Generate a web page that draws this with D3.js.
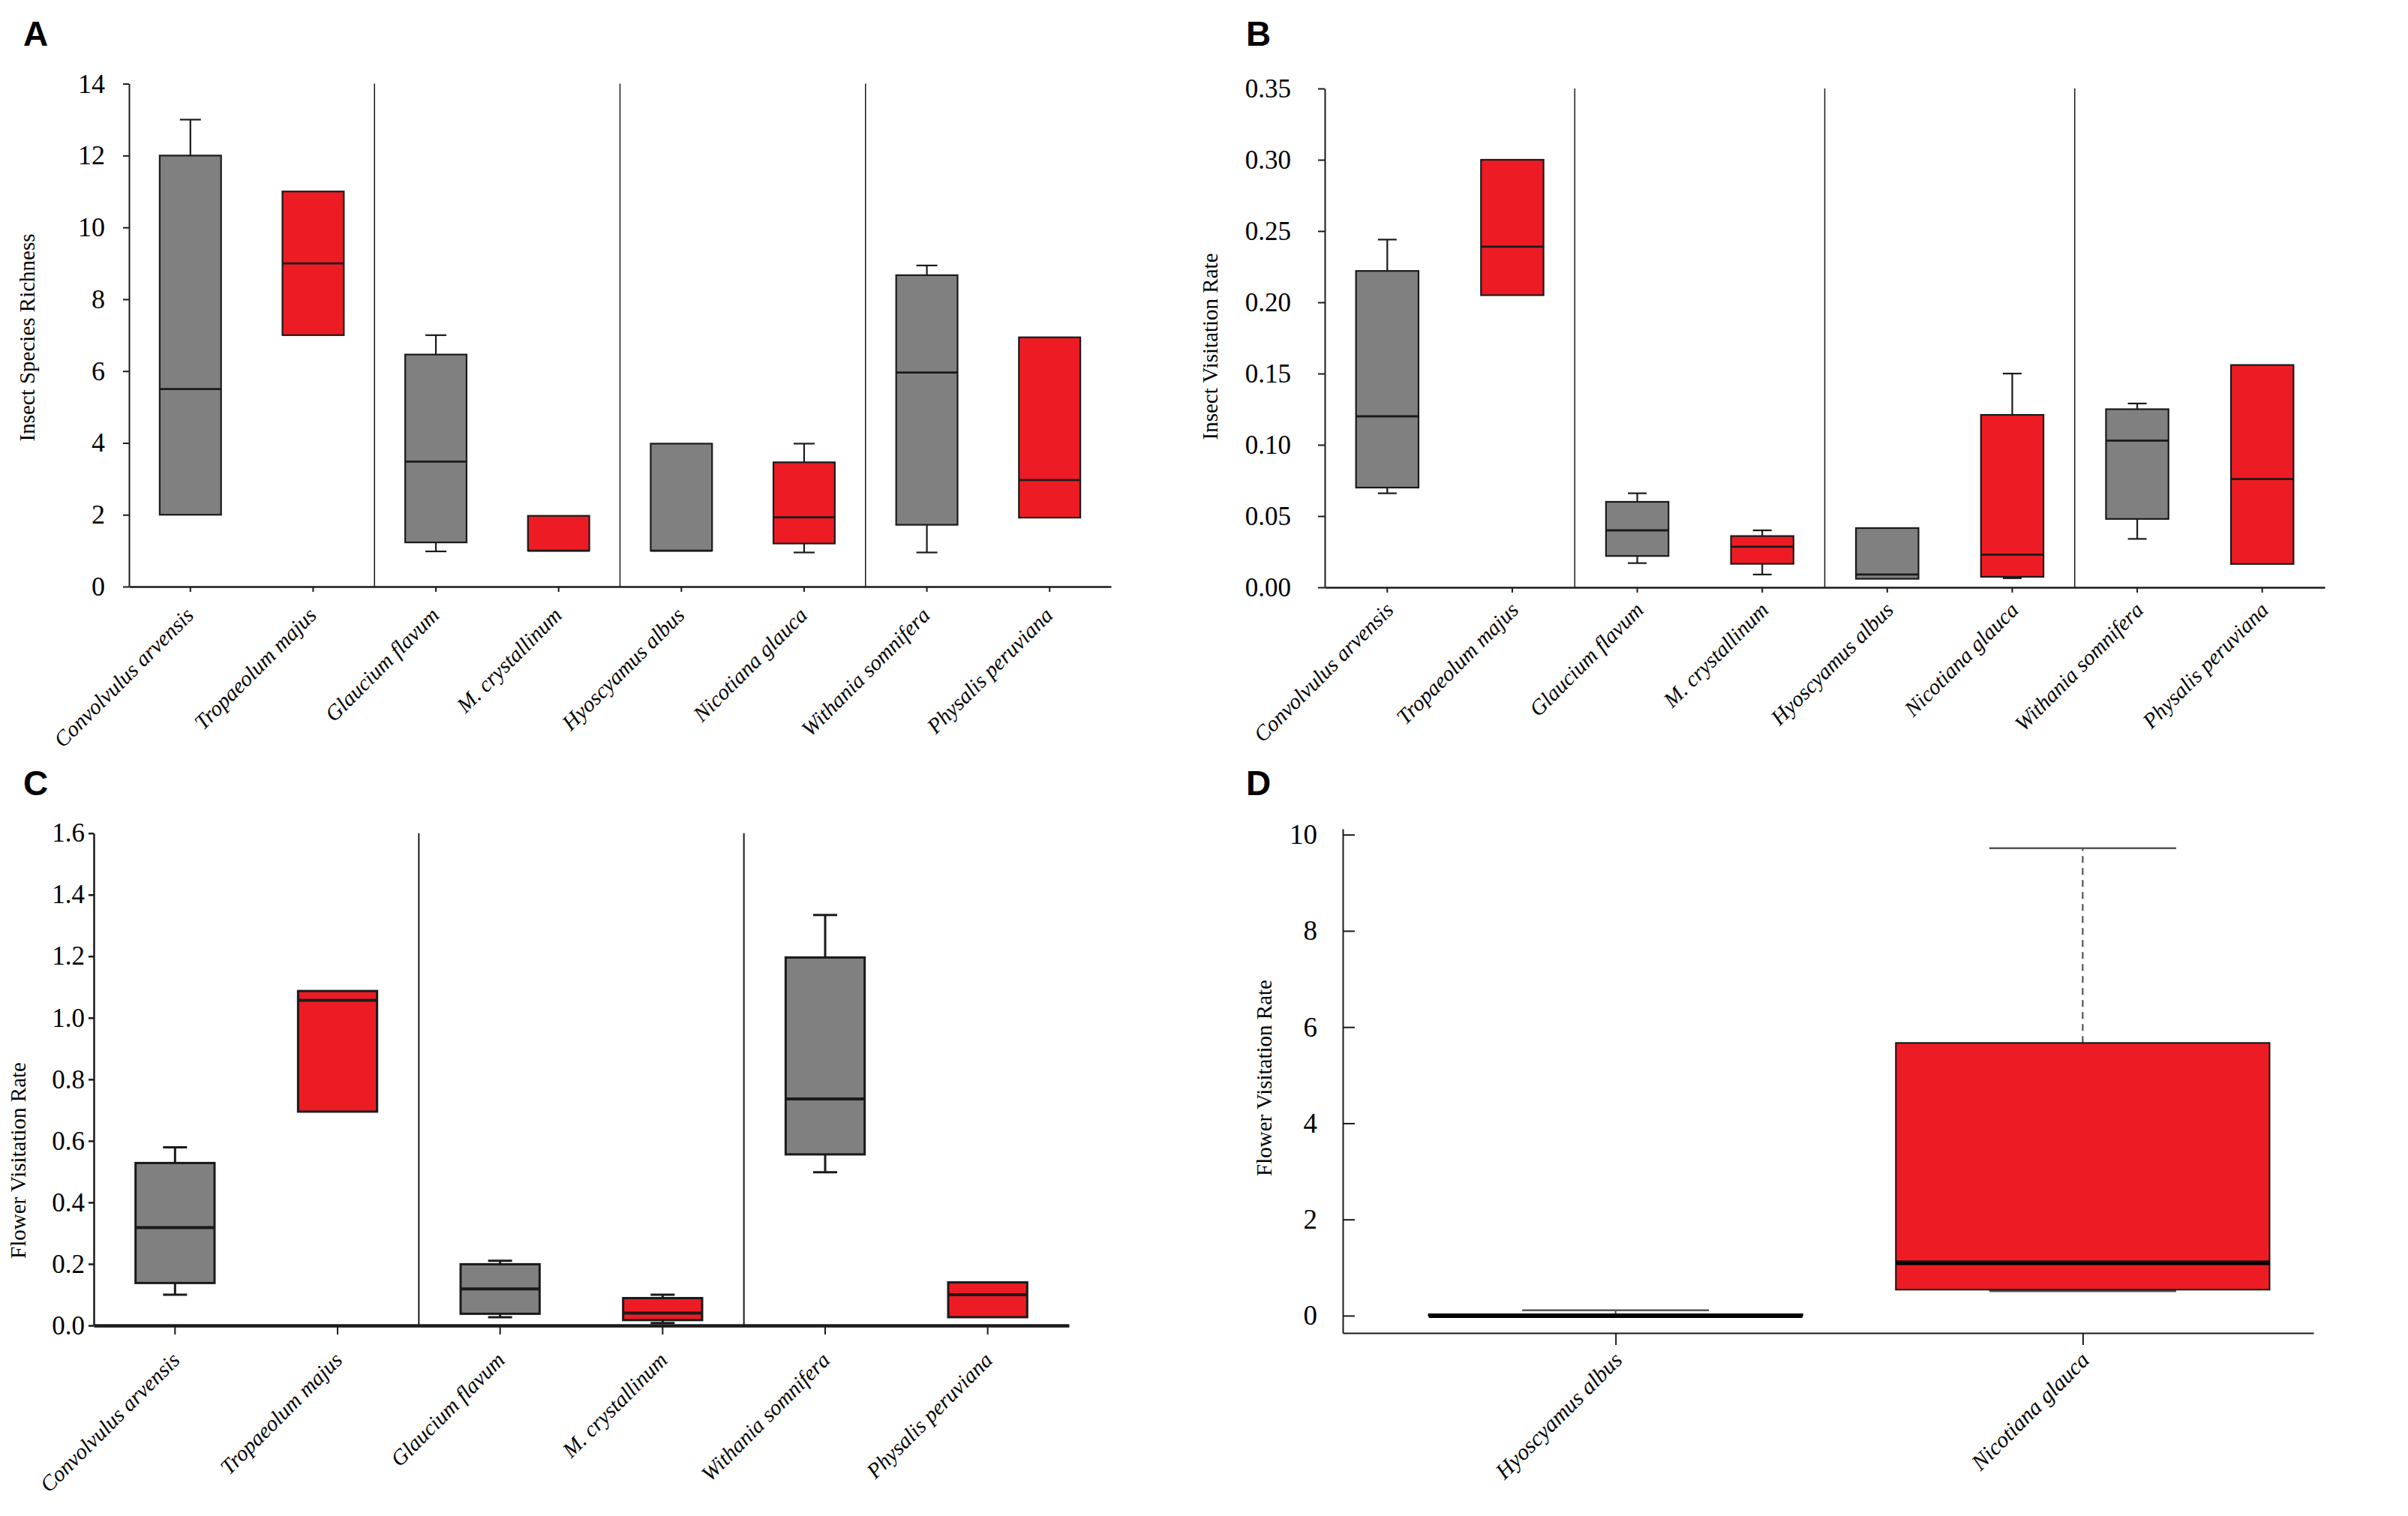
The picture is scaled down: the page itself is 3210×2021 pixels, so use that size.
<!DOCTYPE html>
<html>
<head>
<meta charset="utf-8">
<title>Box plots A-D</title>
<script src="https://cdn.jsdelivr.net/npm/d3@7"></script>
<style>
  body { margin: 0; background: #fff; }
  svg text { font-family: "Liberation Serif", "Times New Roman", serif; }
</style>
</head>
<body>
<script>

  // ---- DATA ----
  var speciesAB = ["Convolvulus arvensis", "Tropaeolum majus", "Glaucium flavum", "M. crystallinum",
                   "Hyoscyamus albus", "Nicotiana glauca", "Withania somnifera", "Physalis peruviana"];
  var speciesC = ["Convolvulus arvensis", "Tropaeolum majus", "Glaucium flavum", "M. crystallinum",
                  "Withania somnifera", "Physalis peruviana"];
  var speciesD = ["Hyoscyamus albus", "Nicotiana glauca"];

  // A - insect species richness
  var richLow  = [2,    7,  0.98, 1,    1,    0.95, 0.95, 1.92];
  var richQ1   = [2,    7,  1.23, 1,    1,    1.2,  1.72, 1.92];
  var richMed  = [5.5,  9,  3.48, 1,    1,    1.93, 5.96, 2.97];
  var richQ3   = [12,   11, 6.46, 1.97, 3.98, 3.46, 8.67, 6.94];
  var richHigh = [13,   11, 7,    1.97, 3.98, 3.98, 8.94, 6.94];
  var richTicks = [0, 2, 4, 6, 8, 10, 12, 14];

  // B - insect visitation rate
  var ivrLow  = [0.066, 0.205, 0.017, 0.009,  0.006,  0.0064, 0.034, 0.0164];
  var ivrQ1   = [0.070, 0.205, 0.022, 0.0165, 0.006,  0.0074, 0.048, 0.0164];
  var ivrMed  = [0.120, 0.239, 0.040, 0.0285, 0.009,  0.023,  0.103, 0.076];
  var ivrQ3   = [0.222, 0.300, 0.060, 0.036,  0.0416, 0.121,  0.125, 0.156];
  var ivrHigh = [0.244, 0.300, 0.066, 0.040,  0.0416, 0.150,  0.129, 0.156];
  var ivrTicks = [0, 0.05, 0.10, 0.15, 0.20, 0.25, 0.30, 0.35];

  // C - flower visitation rate
  var fvrLow  = [0.100, 0.695, 0.027, 0.008,  0.498, 0.027];
  var fvrQ1   = [0.138, 0.695, 0.038, 0.0175, 0.556, 0.027];
  var fvrMed  = [0.318, 1.057, 0.119, 0.040,  0.736, 0.100];
  var fvrQ3   = [0.528, 1.087, 0.199, 0.089,  1.196, 0.140];
  var fvrHigh = [0.579, 1.087, 0.210, 0.100,  1.334, 0.140];
  var fvrTicks = [0, 0.2, 0.4, 0.6, 0.8, 1.0, 1.2, 1.4, 1.6];

  // D - flower visitation rate, two species
  var fvr2Low  = [0,    0.51];
  var fvr2Q1   = [0,    0.54];
  var fvr2Med  = [0,    1.10];
  var fvr2Q3   = [0.03, 5.67];
  var fvr2High = [0.11, 9.72];
  var fvr2Ticks = [0, 2, 4, 6, 8, 10];

  var gray = "#808080", red = "#ED1C24", ink = "#1a1a1a";
  var serif = "'Liberation Serif', 'Times New Roman', serif";

  var svg = d3.select("body").append("svg")
      .attr("width", 3210).attr("height", 2021);

  function rowsOf(cats, lo, q1, med, q3, hi) {
    return cats.map(function (c, i) {
      return {cat: c, i: i, lo: lo[i], q1: q1[i], med: med[i], q3: q3[i], hi: hi[i]};
    });
  }

  function styleAxis(ax, font, w) {
    ax.attr("font-family", serif).attr("font-size", font);
    ax.selectAll("text").style("font-family", serif).style("font-size", font + "px");
    ax.selectAll("path, line").attr("stroke", ink).attr("stroke-width", w);
  }

  function letter(t, x, y) {
    svg.append("text").attr("x", x).attr("y", y)
      .style("font-family", "'Liberation Sans', Arial, sans-serif")
      .style("font-weight", "bold").style("font-size", "46px")
      .text(t);
  }

  function yTitle(t, x, y, size) {
    svg.append("text")
      .attr("transform", "translate(" + x + "," + y + ") rotate(-90)")
      .attr("text-anchor", "middle")
      .style("font-family", serif)
      .style("font-size", size + "px")
      .text(t);
  }

  // panels A, B, C : paired boxes with separators
  function boxPanel(o) {
    var g = svg.append("g");
    var x = d3.scaleBand().domain(o.cats).range([o.left, o.right]);
    var y = d3.scaleLinear().domain([0, o.yMax]).range([o.bottom, o.top]);
    var bw = x.bandwidth() * o.boxFrac;

    g.selectAll(".sep")
      .data(o.cats.filter(function (d, i) { return i > 0 && i % 2 == 0; }))
      .enter().append("line")
      .attr("x1", function (d) { return x(d); })
      .attr("x2", function (d) { return x(d); })
      .attr("y1", o.top).attr("y2", o.bottom)
      .attr("stroke", ink).attr("stroke-width", o.sepW);

    var box = g.selectAll(".box").data(o.rows).enter().append("g")
      .attr("transform", function (d) { return "translate(" + (x(d.cat) + x.bandwidth() / 2) + ",0)"; });

    var up = box.filter(function (d) { return d.hi > d.q3; });
    up.append("line").attr("x1", 0).attr("x2", 0)
      .attr("y1", function (d) { return y(d.q3); }).attr("y2", function (d) { return y(d.hi); })
      .attr("stroke", ink).attr("stroke-width", o.lw);
    up.append("line").attr("x1", -o.capW / 2).attr("x2", o.capW / 2)
      .attr("y1", function (d) { return y(d.hi); }).attr("y2", function (d) { return y(d.hi); })
      .attr("stroke", ink).attr("stroke-width", o.lw);

    var dn = box.filter(function (d) { return d.lo < d.q1; });
    dn.append("line").attr("x1", 0).attr("x2", 0)
      .attr("y1", function (d) { return y(d.q1); }).attr("y2", function (d) { return y(d.lo); })
      .attr("stroke", ink).attr("stroke-width", o.lw);
    dn.append("line").attr("x1", -o.capW / 2).attr("x2", o.capW / 2)
      .attr("y1", function (d) { return y(d.lo); }).attr("y2", function (d) { return y(d.lo); })
      .attr("stroke", ink).attr("stroke-width", o.lw);

    box.append("rect")
      .attr("x", -bw / 2).attr("width", bw)
      .attr("y", function (d) { return y(d.q3); })
      .attr("height", function (d) { return Math.max(0, y(d.q1) - y(d.q3)); })
      .attr("fill", function (d) { return d.i % 2 == 0 ? gray : red; })
      .attr("stroke", ink).attr("stroke-width", o.lw);

    box.append("line").attr("x1", -bw / 2).attr("x2", bw / 2)
      .attr("y1", function (d) { return y(d.med); }).attr("y2", function (d) { return y(d.med); })
      .attr("stroke", ink).attr("stroke-width", o.medW);

    var ya = g.append("g").attr("transform", "translate(" + o.left + ",0)")
      .call(d3.axisLeft(y).tickValues(o.ticks).tickFormat(o.fmt)
        .tickSize(o.tickLen).tickSizeOuter(0).tickPadding(o.tickPad));
    styleAxis(ya, o.tickFont, o.yAxisW);

    var xa = g.append("g").attr("transform", "translate(0," + o.bottom + ")")
      .call(d3.axisBottom(x).tickSize(o.xTick).tickSizeOuter(0));
    styleAxis(xa, 29, o.xAxisW);
    xa.selectAll(".tick line").attr("stroke-width", 2);
    xa.selectAll("text")
      .attr("x", 0).attr("y", 0).attr("dy", 0)
      .attr("transform", "translate(" + o.labelDx + "," + o.labelDy + ") rotate(-45)")
      .style("text-anchor", "end").style("font-style", "italic");

    yTitle(o.title, o.titleX, o.titleY, 29);
    letter(o.letter, o.letterX, o.letterY);
  }

  boxPanel({
    cats: speciesAB, rows: rowsOf(speciesAB, richLow, richQ1, richMed, richQ3, richHigh),
    left: 172, right: 1481, top: 111.6, bottom: 782, yMax: 14,
    ticks: richTicks, fmt: d3.format("d"), tickLen: 8, tickPad: 24, tickFont: 36,
    boxFrac: 0.5, capW: 28, lw: 2.2, medW: 2.8, sepW: 1.5, yAxisW: 2, xAxisW: 2.5,
    xTick: 7, labelDx: 6, labelDy: 40,
    title: "Insect Species Richness", titleX: 46, titleY: 450,
    letter: "A", letterX: 31, letterY: 61
  });

  boxPanel({
    cats: speciesAB, rows: rowsOf(speciesAB, ivrLow, ivrQ1, ivrMed, ivrQ3, ivrHigh),
    left: 1766, right: 3099, top: 118, bottom: 783, yMax: 0.35,
    ticks: ivrTicks, fmt: d3.format(".2f"), tickLen: 9, tickPad: 36, tickFont: 35,
    boxFrac: 0.5, capW: 25, lw: 2.2, medW: 2.8, sepW: 1.5, yAxisW: 2, xAxisW: 2.5,
    xTick: 7, labelDx: 10, labelDy: 32,
    title: "Insect Visitation Rate", titleX: 1623, titleY: 462,
    letter: "B", letterX: 1661, letterY: 61
  });

  boxPanel({
    cats: speciesC, rows: rowsOf(speciesC, fvrLow, fvrQ1, fvrMed, fvrQ3, fvrHigh),
    left: 125, right: 1425, top: 1110.7, bottom: 1767, yMax: 1.6,
    ticks: fvrTicks, fmt: d3.format(".1f"), tickLen: 7, tickPad: 5, tickFont: 35,
    boxFrac: 0.486, capW: 32, lw: 3, medW: 4, sepW: 2, yAxisW: 2.5, xAxisW: 4.5,
    xTick: 12, labelDx: 8, labelDy: 48,
    title: "Flower Visitation Rate", titleX: 34, titleY: 1547,
    letter: "C", letterX: 31, letterY: 1060
  });

  // panel D : R-style boxplot, two species
  (function () {
    var g = svg.append("g");
    var x = d3.scaleLinear().domain([0.416, 2.494]).range([1790, 3084]);
    var y = d3.scaleLinear().domain([-0.36, 10.12]).range([1777, 1105]);
    var unit = x(1) - x(0);
    var bw = 0.8 * unit, capW = 0.4 * unit;
    var rows = rowsOf(speciesD, fvr2Low, fvr2Q1, fvr2Med, fvr2Q3, fvr2High);

    var box = g.selectAll(".box").data(rows).enter().append("g")
      .attr("transform", function (d) { return "translate(" + x(d.i + 1) + ",0)"; });

    box.append("line").attr("x1", 0).attr("x2", 0)
      .attr("y1", function (d) { return y(d.q3); }).attr("y2", function (d) { return y(d.hi); })
      .attr("stroke", "#444").attr("stroke-width", 2).attr("stroke-dasharray", "9,7");
    box.append("line").attr("x1", 0).attr("x2", 0)
      .attr("y1", function (d) { return y(d.q1); }).attr("y2", function (d) { return y(d.lo); })
      .attr("stroke", "#444").attr("stroke-width", 2).attr("stroke-dasharray", "9,7");
    box.append("line").attr("x1", -capW / 2).attr("x2", capW / 2)
      .attr("y1", function (d) { return y(d.hi); }).attr("y2", function (d) { return y(d.hi); })
      .attr("stroke", "#555").attr("stroke-width", 2.5);
    box.append("line").attr("x1", -capW / 2).attr("x2", capW / 2)
      .attr("y1", function (d) { return y(d.lo); }).attr("y2", function (d) { return y(d.lo); })
      .attr("stroke", "#555").attr("stroke-width", 2.5);

    box.append("rect")
      .attr("x", -bw / 2).attr("width", bw)
      .attr("y", function (d) { return y(d.q3); })
      .attr("height", function (d) { return y(d.q1) - y(d.q3); })
      .attr("fill", function (d) { return d.i % 2 == 0 ? gray : red; })
      .attr("stroke", "#111").attr("stroke-width", 2);

    box.append("line").attr("x1", -bw / 2).attr("x2", bw / 2)
      .attr("y1", function (d) { return y(d.med); }).attr("y2", function (d) { return y(d.med); })
      .attr("stroke", "#000").attr("stroke-width", 6);

    var ya = g.append("g").attr("transform", "translate(" + x.range()[0] + ",0)")
      .call(d3.axisLeft(y).tickValues(fvr2Ticks).tickFormat(d3.format("d"))
        .tickSize(-16).tickSizeOuter(0).tickPadding(34));
    styleAxis(ya, 37, 2);

    var xa = g.append("g").attr("transform", "translate(0," + y.range()[0] + ")")
      .call(d3.axisBottom(x).tickValues([1, 2])
        .tickFormat(function (v) { return speciesD[v - 1]; })
        .tickSize(16).tickSizeOuter(0));
    styleAxis(xa, 30, 2);
    xa.selectAll("text")
      .attr("x", 0).attr("y", 0).attr("dy", 0)
      .attr("transform", "translate(10,38) rotate(-45)")
      .style("text-anchor", "end").style("font-style", "italic");

    yTitle("Flower Visitation Rate", 1695, 1437, 29);
    letter("D", 1661, 1060);
  })();

</script>
</body>
</html>
